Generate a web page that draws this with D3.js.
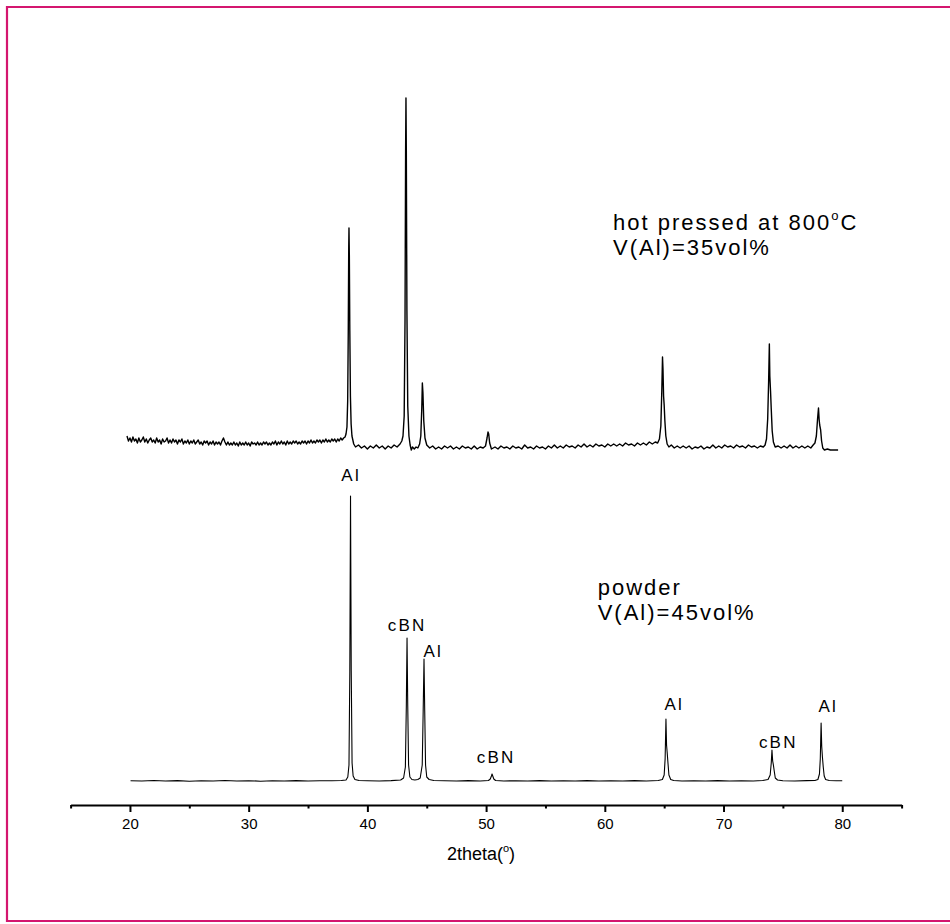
<!DOCTYPE html>
<html>
<head>
<meta charset="utf-8">
<script src="https://cdn.jsdelivr.net/npm/d3@7"></script>
<style>
  html, body { margin: 0; padding: 0; background: #fff; overflow: hidden; }
  svg { display: block; font-family: "Liberation Sans", Arial, Helvetica, sans-serif; }
</style>
</head>
<body>
<svg id="chart" width="950" height="924"></svg>
<script>
// ---------------- DATA ----------------
// x axis ticks (2theta, degrees)
const majorTicks = [20, 30, 40, 50, 60, 70, 80];
const minorTicks = [15, 25, 35, 45, 55, 65, 75, 85];

// hot pressed at 800°C, V(Al)=35vol%  -> [2theta, intensity (a.u., stacked)]
const hotPressed = [
  [19.75,345],[19.875,340],[20,343],[20.125,339],[20.25,344],[20.375,340],[20.5,342],[20.625,338],
  [20.75,343],[20.875,339],[21,341],[21.125,344],[21.25,339],[21.375,342],[21.5,338],[21.625,341],
  [21.75,343],[21.875,339],[22,341],[22.125,338],[22.25,343],[22.375,339],[22.5,341],[22.625,337],
  [22.75,342],[22.875,339],[23,340],[23.125,343],[23.25,338],[23.375,341],[23.5,338],[23.625,342],
  [23.75,339],[23.875,341],[24,337],[24.125,341],[24.25,339],[24.375,342],[24.5,337],[24.625,340],
  [24.75,338],[24.875,341],[25,337],[25.125,340],[25.25,338],[25.375,341],[25.5,337],[25.625,339],
  [25.75,341],[25.875,337],[26,339],[26.125,336],[26.25,340],[26.375,338],[26.5,340],[26.625,336],
  [26.75,339],[26.875,337],[27,340],[27.125,336],[27.25,339],[27.375,337],[27.5,339],[27.625,336],
  [27.75,340],[27.875,343],[28,339],[28.125,336],[28.25,339],[28.375,336],[28.5,338],[28.625,336],
  [28.75,339],[28.875,336],[29,338],[29.125,335],[29.25,339],[29.375,336],[29.5,338],[29.625,336],
  [29.75,339],[29.875,336],[30,338],[30.125,335],[30.25,339],[30.375,337],[30.5,338],[30.625,336],
  [30.75,339],[30.875,336],[31,338],[31.125,336],[31.25,339],[31.375,337],[31.5,339],[31.625,336],
  [31.75,338],[31.875,336],[32,339],[32.125,337],[32.25,340],[32.375,336],[32.5,339],[32.625,337],
  [32.75,340],[32.875,337],[33,339],[33.125,336],[33.25,340],[33.375,337],[33.5,339],[33.625,337],
  [33.75,340],[33.875,338],[34,340],[34.125,337],[34.25,339],[34.375,337],[34.5,340],[34.625,338],
  [34.75,340],[34.875,337],[35,340],[35.125,338],[35.25,341],[35.375,338],[35.5,340],[35.625,338],
  [35.75,341],[35.875,339],[36,341],[36.125,338],[36.25,341],[36.375,339],[36.5,342],[36.625,339],
  [36.75,341],[36.875,339],[37,342],[37.125,340],[37.25,342],[37.375,339],[37.5,342],[37.625,340],
  [37.75,343],[37.875,341],[38,343],[38.12,344],[38.2,347],[38.28,354],[38.34,380],[38.39,450],
  [38.43,535],[38.45,553],[38.48,525],[38.52,450],[38.57,385],[38.63,357],[38.7,345],[38.85,337],
  [39,334],[39.25,336],[39.5,333],[39.75,335],[40,332],[40.25,335],
  [40.5,333],[40.75,336],[41,333],[41.25,335],[41.5,332],[41.75,335],[42,333],[42.25,336],[42.5,334],
  [42.75,337],[42.9,340],[43,345],[43.1,365],[43.17,460],[43.22,630],[43.25,683],[43.28,630],[43.33,470],
  [43.4,375],[43.5,345],[43.6,336],[43.7,331],[43.8,334],[43.95,332],[44.1,334],[44.25,333],[44.4,337],
  [44.5,345],[44.58,372],[44.63,398],[44.68,388],[44.75,360],[44.85,343],[45,336],[45.25,333],[45.5,335],
  [45.75,332],[46,334],[46.25,332],[46.5,335],[46.75,333],[47,335],[47.25,332],[47.5,334],[47.75,332],
  [48,335],[48.25,333],[48.5,334],[48.75,332],[49,335],[49.25,332],[49.5,334],[49.75,333],[49.95,335],
  [50.08,343],[50.16,349],[50.22,347],[50.3,338],[50.45,332],[50.75,334],[51,332],[51.25,335],[51.5,333],
  [51.75,334],[52,332],[52.25,335],[52.5,333],[52.75,334],[53,332],[53.25,336],[53.5,333],[53.75,334],
  [54,332],[54.25,335],[54.5,333],[54.75,334],[55,332],[55.25,335],[55.5,333],[55.75,336],[56,333],
  [56.25,335],[56.5,333],[56.75,336],[57,334],[57.25,335],[57.5,333],[57.75,336],[58,334],[58.25,337],
  [58.5,334],[58.75,336],[59,334],[59.25,337],[59.5,335],[59.75,336],[60,334],[60.25,337],[60.5,335],
  [60.75,337],[61,335],[61.25,337],[61.5,335],[61.75,338],[62,336],[62.25,337],[62.5,335],[62.75,338],
  [63,336],[63.25,338],[63.5,336],[63.75,339],[64,337],[64.25,339],[64.45,338],[64.6,342],[64.72,355],
  [64.8,390],[64.86,424],[64.9,412],[64.95,385],[65,376],[65.06,360],[65.14,345],[65.25,337],[65.4,334],
  [65.6,336],[65.85,333],[66.1,335],[66.35,333],[66.6,335],[66.85,333],[67.1,335],[67.35,332],[67.6,334],
  [67.85,333],[68.1,335],[68.35,332],[68.6,334],[68.85,333],[69.1,336],[69.35,333],[69.6,335],[69.85,333],
  [70.1,336],[70.35,334],[70.6,335],[70.85,333],[71.1,336],[71.35,334],[71.6,335],[71.85,333],[72.1,336],
  [72.35,334],[72.6,335],[72.85,333],[73.1,335],[73.35,334],[73.5,336],[73.62,342],[73.72,362],[73.8,400],
  [73.86,437],[73.9,405],[73.96,390],[74.02,372],[74.1,350],[74.2,339],[74.35,334],[74.6,335],[74.85,333],
  [75.1,335],[75.35,333],[75.6,336],[75.85,333],[76.1,335],[76.35,333],[76.6,335],[76.85,333],[77.1,335],
  [77.35,333],[77.55,336],[77.7,338],[77.82,345],[77.92,362],[78,373],[78.05,362],[78.1,356],[78.18,351],
  [78.26,340],[78.36,333],[78.5,331],[78.75,332],[79,331],[79.25,331],[79.5,331],[79.65,331]
];

// powder, V(Al)=45vol%  -> [2theta, intensity (a.u.)]
const powder = [
  [20.05,0.3],[21,0],[22,0.5],[23,0],[24,0.4],[25,-0.2],[26,0.3],[27,0],[28,0.5],[29,0],[30,0.3],
  [31,-0.2],[32,0.3],[33,0],[34,0.4],[35,0],[36,0.3],[37,0.2],[37.8,0.5],[38.2,1],[38.35,4],[38.45,16],
  [38.52,110],[38.58,285],[38.64,110],[38.71,18],[38.8,5],[38.95,1.5],[39.3,0.5],[40,0.3],[41,0],[42,0.4],
  [42.8,1],[43.05,3],[43.2,14],[43.28,75],[43.34,143],[43.4,75],[43.47,16],[43.58,4],[43.75,1.5],[44,1],
  [44.25,1.5],[44.45,3],[44.62,16],[44.7,70],[44.77,122],[44.83,70],[44.9,16],[45,4],[45.2,1.5],[45.6,0.5],
  [46.5,0.3],[47.5,0],[48.5,0.4],[49.5,0],[50.2,0.5],[50.35,2],[50.45,5],[50.5,7],[50.56,5],[50.65,2],
  [50.8,0.5],[51.5,0],[52.5,0.3],[53.5,0],[54.5,0.4],[55.5,0],[56.5,0.3],[57.5,0],[58.5,0.4],[59.5,0],
  [60.5,0.3],[61.5,0],[62.5,0.4],[63.5,0],[64.5,0.5],[64.85,1.5],[65,6],[65.08,22],[65.15,62],[65.2,36],
  [65.25,29],[65.32,18],[65.4,6],[65.55,1.5],[65.8,0.5],[66.5,0],[67.5,0.3],[68.5,0],[69.5,0.4],[70.5,0],
  [71.5,0.3],[72.5,0],[73.3,0.5],[73.75,1.5],[73.93,6],[74.02,18],[74.08,31],[74.14,20],[74.2,16],
  [74.27,10],[74.36,3],[74.55,1],[75,0.3],[76,0],[77,0.4],[77.7,0.5],[77.95,1.5],[78.08,7],[78.15,22],
  [78.22,58],[78.27,35],[78.33,24],[78.4,14],[78.48,5],[78.6,1.5],[78.9,0.5],[79.5,0.2],[80,0.3]
];

// peak annotations (powder pattern)
const peakLabels = ["Al", "cBN", "Al", "cBN", "Al", "cBN", "Al"];
const peakLabelTheta = [38.53, 43.25, 45.44, 50.75, 65.74, 74.51, 78.72];
const peakLabelIntensity = [300, 150, 124, 18, 71, 33, 69];

// sample descriptions
const hotLines = ["hot pressed at 800", "V(Al)=35vol%"];
const powderLines = ["powder", "V(Al)=45vol%"];
const hotTextAnchor = [60.69, 551];
const powderTextAnchor = [59.4, 186];

const xTitle = "2theta(";

// ---------------- CHART ----------------
const svg = d3.select("#chart");

// frame (left, top and bottom edges visible; right edge lies outside the picture)
svg.append("path")
  .attr("d", "M960,7H7V921H960")
  .attr("fill", "none")
  .attr("stroke", "#d4166f")
  .attr("stroke-width", 2.2);

const x = d3.scaleLinear().domain([15, 85]).range([70.6, 901.6]);
const y = d3.scaleLinear().domain([0, 700]).range([781, 81]);

const line = d3.line().x(d => x(d[0])).y(d => y(d[1]));

svg.append("path").datum(hotPressed)
  .attr("d", line).attr("fill", "none")
  .attr("stroke", "#000").attr("stroke-width", 1.4).attr("stroke-linejoin", "round");

svg.append("path").datum(powder)
  .attr("d", line).attr("fill", "none")
  .attr("stroke", "#000").attr("stroke-width", 1.1).attr("stroke-linejoin", "round");

// axis
const axisY = 805;
const gMinor = svg.append("g").attr("transform", `translate(0,${axisY})`)
  .call(d3.axisBottom(x).tickValues(minorTicks).tickSize(3.5).tickSizeOuter(0).tickFormat(""));
gMinor.select(".domain").remove();
gMinor.selectAll("line").attr("stroke", "#000").attr("stroke-width", 2);

const gMajor = svg.append("g").attr("transform", `translate(0,${axisY})`)
  .call(d3.axisBottom(x).tickValues(majorTicks).tickSize(7).tickSizeOuter(0).tickFormat(d3.format("d")));
gMajor.select(".domain").attr("stroke", "#000").attr("stroke-width", 2);
gMajor.selectAll("line").attr("stroke", "#000").attr("stroke-width", 2);
gMajor.selectAll("text")
  .attr("y", 24).attr("dy", 0)
  .attr("fill", "#000")
  .style("font-size", "15px")
  .style("font-family", "'Liberation Sans', Arial, sans-serif");

// axis title
const title = svg.append("text")
  .attr("x", 481).attr("y", 860)
  .attr("text-anchor", "middle")
  .style("font-size", "18px").attr("fill", "#000");
title.append("tspan").text(xTitle);
title.append("tspan").text("o").style("font-size", "11px").attr("dy", -8);
title.append("tspan").text(")").attr("dy", 8);

// peak labels
svg.append("g").selectAll("text")
  .data(peakLabels)
  .join("text")
  .attr("x", (d, i) => x(peakLabelTheta[i]) + 1.2)
  .attr("y", (d, i) => y(peakLabelIntensity[i]))
  .attr("text-anchor", "middle")
  .style("font-size", "17px")
  .style("letter-spacing", "2.2px")
  .attr("fill", "#000")
  .text(d => d);

// sample descriptions
const hot = svg.append("text")
  .attr("x", x(hotTextAnchor[0])).attr("y", y(hotTextAnchor[1]))
  .style("font-size", "22px").style("letter-spacing", "2px").attr("fill", "#000");
hot.append("tspan").text(hotLines[0]);
hot.append("tspan").text("o").style("font-size", "13px").attr("dy", -10);
hot.append("tspan").text("C").attr("dy", 10);
svg.append("text")
  .attr("x", x(hotTextAnchor[0])).attr("y", y(hotTextAnchor[1]) + 25)
  .style("font-size", "22px").style("letter-spacing", "2px").attr("fill", "#000")
  .text(hotLines[1]);

powderLines.forEach((t, i) => {
  svg.append("text")
    .attr("x", x(powderTextAnchor[0])).attr("y", y(powderTextAnchor[1]) + i * 25)
    .style("font-size", "22px").style("letter-spacing", "2px").attr("fill", "#000")
    .text(t);
});
</script>
</body>
</html>
